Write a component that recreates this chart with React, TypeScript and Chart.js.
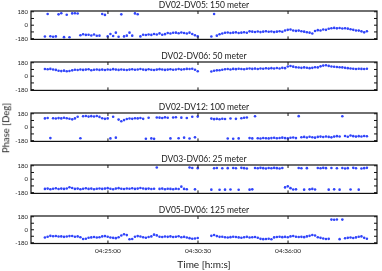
import React, { useEffect, useRef } from "react";
import { Chart, registerables } from "chart.js";

Chart.register(...registerables);

// Sample timing (seconds since midnight) — samples are taken every 10 s
const START_SECONDS = 15669; // 04:21:09
const STEP_SECONDS = 10;

// Axes
const X_MIN = 15618;
const X_MAX = 16886;
const X_TICKS = [15900, 16230, 16560]; // 04:25:00, 04:30:30, 04:36:00
const Y_TICKS = [-180, -90, 0, 90, 180];
const Y_LABELED = [-180, 0, 180];
const Y_MIN = -190;
const Y_MAX = 190;

const TITLES = [
  "DV02-DV05: 150 meter",
  "DV02-DV06: 50 meter",
  "DV02-DV12: 100 meter",
  "DV03-DV06: 25 meter",
  "DV05-DV06: 125 meter",
];

const N = null;

const PHASE_DV02_DV05 = [
  -152, 150, -148, -155, -150, 145, 160, -160, 140, -162,
  158, 160, 156, -135, -122, -130, -128, -138, -125, -142,
  -140, 150, 138, -150, -118, -145, -100, -155, 145, -150,
  -140, -100, -140, 158, 146, -150, -128, -132, -125, -130,
  -118, -125, -110, -128, -120, -105, -112, -102, -100, -108,
  -98, -104, -112, -100, -118, -135, -150, N, N, N,
  N, -152, 150, -140, -122, -112, -102, -98, -104, -100,
  -96, -104, -100, -94, -102, -82, -86, -90, -84, -92,
  -86, -80, -88, -84, -92, -86, -80, -88, -70, -62,
  -58, -70, -76, -72, -80, -86, -94, -100, -112, -78,
  -66, -70, -58, -62, -48, -40, -36, -42, -38, -44,
  -40, -46, -54, -62, -70, -72, -82, -96, -80,
];

const PHASE_DV02_DV06 = [
  96, 92, 98, 90, 84, 72, 68, 74, 66, 70,
  78, 86, 82, 90, 84, 88, 92, 80, 86, 90,
  84, 88, 82, 90, 86, 94, 88, 84, 90, 86,
  82, 88, 92, 86, 90, 96, 88, 84, 92, 86,
  82, 88, 94, 90, 84, 88, 92, 86, 90, 96,
  88, 92, 98, 96, 100, 86, 66, N, N, N,
  N, 62, 72, 78, 80, 86, 92, 96, 90, 98,
  94, 100, 96, 92, 100, 104, 98, 102, 96, 104,
  100, 106, 102, 108, 104, 110, 104, 112, 108, 130,
  136, 128, 120, 116, 112, 118, 114, 108, 112, 120,
  118, 132, 142, 146, 138, 130, 126, 124, 120, 118,
  112, 108, 104, 100, 96, 100, 98, 96, 100,
];

const PHASE_DV02_DV12 = [
  118, 124, -146, 120, 116, 122, 118, 126, 120, 114,
  105, 118, 140, -148, 146, 150, 142, 148, 144, 150,
  138, 120, 112, 118, -150, 140, -140, 102, 80, 95,
  110, 116, 112, 120, 118, 124, 112, -154, 126, -150,
  -156, 130, 128, 124, 132, 126, -150, 130, 134, -148,
  128, -140, 124, -152, 140, -136, 142, N, N, N,
  N, 115, 108, 112, 106, 114, 110, -152, 116, -154,
  112, -150, 120, 126, 130, -146, -150, 146, -148, -152,
  -144, -148, -150, -146, -142, -148, -144, -140, -146, -150,
  -142, -138, -146, 148, -134, -130, -138, -128, -134, -140,
  -130, -126, -132, -124, -130, -136, -126, -120, -124, 146,
  -118, -128, -112, -120, -126, -120, -124, -118, -122,
];

const PHASE_DV03_DV06 = [
  -130, -126, -134, -128, -122, -132, -126, -130, -124, -108,
  -118, -130, -126, -134, -128, -122, -130, -126, -134, -128,
  -124, -130, -126, -120, -128, -134, -126, -120, -128, -132,
  -124, -128, -122, -130, -126, -118, -124, -130, -126, -132,
  -128, 156, -130, -126, -134, -128, -130, -134, -128, -132,
  -100, -130, -134, 156, 150, -136, 148, N, N, N,
  N, -140, 146, 150, -142, 146, -140, 148, -138, 150,
  146, -142, 152, 148, 144, -140, -136, 150, 146, 152,
  148, 144, 150, 146, 152, 148, 144, 150, -110, -96,
  -120, -138, -136, 150, 146, -140, 148, -136, -130, -138,
  150, 146, 152, 148, -140, 150, -136, 146, -140, 150,
  144, 148, -138, 152, 146, -140, 144, 148, 152,
];

const PHASE_DV05_DV06 = [
  -108, -96, -84, -90, -86, -94, -92, -98, -94, -88,
  -86, -96, -92, -104, -128, -124, -110, -106, -100, -108,
  -104, -92, -88, -96, -108, -112, -116, -104, -80, -62,
  -74, -132, -128, -96, -88, -94, -104, -110, -100, -92,
  -68, -78, -96, -100, -94, -98, -92, -100, -96, -90,
  -104, -98, -108, -116, -124, -120, -114, N, N, N,
  N, -84, -72, -88, -98, -96, -104, -108, -102, -96,
  -100, -106, -110, -104, -98, -108, -104, -100, -110, -126,
  -130, -128, -124, -132, -106, -100, -96, -102, -98, -104,
  -92, -86, -96, -100, -98, -102, -92, -84, -72, -80,
  -104, -112, -120, -128, -126, 140, 138, 142, -130, 140,
  -118, -112, -108, -114, -106, -96, -92, -112, -124,
];

const SERIES = [
  PHASE_DV02_DV05,
  PHASE_DV02_DV06,
  PHASE_DV02_DV12,
  PHASE_DV03_DV06,
  PHASE_DV05_DV06,
];

const CANVAS_TOPS = [0, 51, 102, 154, 205];

const FONT = "Lato, 'DejaVu Sans', sans-serif";
const POINT_COLOR = "rgb(48,68,250)";

function fmtTime(sec: number) {
  const h = Math.floor(sec / 3600);
  const m = Math.floor((sec % 3600) / 60);
  const s = Math.round(sec % 60);
  const p = (n: number) => String(n).padStart(2, "0");
  return `${p(h)}:${p(m)}:${p(s)}`;
}

const framePlugin = {
  id: "matlabFrame",
  afterDatasetsDraw(chart: any, _args: any, opts: any) {
    const { ctx, chartArea: a, scales } = chart;
    ctx.save();
    ctx.strokeStyle = "#111";
    ctx.lineWidth = 1.2;
    ctx.strokeRect(a.left, a.top, a.right - a.left, a.bottom - a.top);
    const L = 3;
    ctx.lineWidth = 1;
    ctx.beginPath();
    for (const v of X_TICKS) {
      const x = scales.x.getPixelForValue(v);
      ctx.moveTo(x, a.bottom);
      ctx.lineTo(x, a.bottom - L);
      ctx.moveTo(x, a.top);
      ctx.lineTo(x, a.top + L);
    }
    for (const v of Y_TICKS) {
      const y = scales.y.getPixelForValue(v);
      ctx.moveTo(a.left, y);
      ctx.lineTo(a.left + L, y);
      ctx.moveTo(a.right, y);
      ctx.lineTo(a.right - L, y);
    }
    ctx.stroke();
    // panel title, centred over the plot area
    if (opts && opts.text) {
      ctx.fillStyle = "#222";
      ctx.font = `8.5px ${FONT}`;
      ctx.textAlign = "center";
      ctx.textBaseline = "middle";
      ctx.fillText(opts.text, (a.left + a.right) / 2, a.top - 5.5);
    }
    ctx.restore();
  },
};

function Panel({ index }: { index: number }) {
  const ref = useRef<HTMLCanvasElement | null>(null);
  const isLast = index === SERIES.length - 1;
  const height = isLast ? 66 : 46;

  useEffect(() => {
    if (!ref.current) return;
    const values = SERIES[index];
    const data = values.map((v, i) => ({
      x: START_SECONDS + i * STEP_SECONDS,
      y: v,
    }));
    const chart = new Chart(ref.current, {
      type: "scatter",
      data: {
        datasets: [
          {
            data: data as any,
            pointRadius: 1.3,
            pointHoverRadius: 1.3,
            pointBackgroundColor: POINT_COLOR,
            pointBorderWidth: 0,
            borderColor: POINT_COLOR,
            showLine: false,
          },
        ],
      },
      options: {
        responsive: false,
        animation: false,
        events: [],
        layout: {
          padding: { left: 0, right: 5, top: 11, bottom: isLast ? 0 : 5 },
        },
        plugins: {
          legend: { display: false },
          tooltip: { enabled: false },
          title: { display: false },
          matlabFrame: { text: TITLES[index] },
        } as any,
        scales: {
          x: {
            type: "linear",
            min: X_MIN,
            max: X_MAX,
            afterBuildTicks: (scale: any) => {
              scale.ticks = X_TICKS.map((v) => ({ value: v }));
            },
            afterFit: isLast
              ? undefined
              : (scale: any) => {
                  scale.height = 0;
                },
            grid: { display: false, drawTicks: false },
            border: { display: false },
            ticks: {
              display: isLast,
              padding: 4,
              color: "#222",
              font: { family: FONT, size: 6.5 },
              maxRotation: 0,
              autoSkip: false,
              callback: (v: any) => fmtTime(Number(v)),
            },
            title: {
              display: isLast,
              text: "Time [h:m:s]",
              color: "#222",
              font: { family: FONT, size: 10 },
              padding: { top: 2, bottom: 0 },
            },
          },
          y: {
            type: "linear",
            min: Y_MIN,
            max: Y_MAX,
            afterBuildTicks: (scale: any) => {
              scale.ticks = Y_TICKS.map((v) => ({ value: v }));
            },
            afterFit: (scale: any) => {
              scale.width = 31;
            },
            grid: { display: false, drawTicks: false },
            border: { display: false },
            ticks: {
              padding: 3,
              color: "#222",
              font: { family: FONT, size: 6 },
              autoSkip: false,
              callback: (v: any) => (Y_LABELED.includes(Number(v)) ? String(v) : ""),
            },
          },
        },
      },
      plugins: [framePlugin],
    });
    return () => chart.destroy();
  }, [index]);

  return (
    <canvas
      ref={ref}
      width={382}
      height={height}
      style={{
        position: "absolute",
        left: 0,
        top: CANVAS_TOPS[index],
        width: 382,
        height,
      }}
    />
  );
}

export default function App() {
  useEffect(() => {
    document.body.style.margin = "0";
  }, []);
  return (
    <div
      style={{
        position: "absolute",
        left: 0,
        top: 0,
        width: 382,
        height: 271,
        background: "#fff",
        overflow: "hidden",
      }}
    >
      {SERIES.map((_, i) => (
        <Panel key={i} index={i} />
      ))}
      <div
        style={{
          position: "absolute",
          left: 6,
          top: 128,
          transform: "translate(-50%, -50%) rotate(-90deg)",
          fontFamily: FONT,
          fontSize: 9.5,
          color: "#222",
          whiteSpace: "nowrap",
          lineHeight: 1,
        }}
      >
        Phase [Deg]
      </div>
    </div>
  );
}
